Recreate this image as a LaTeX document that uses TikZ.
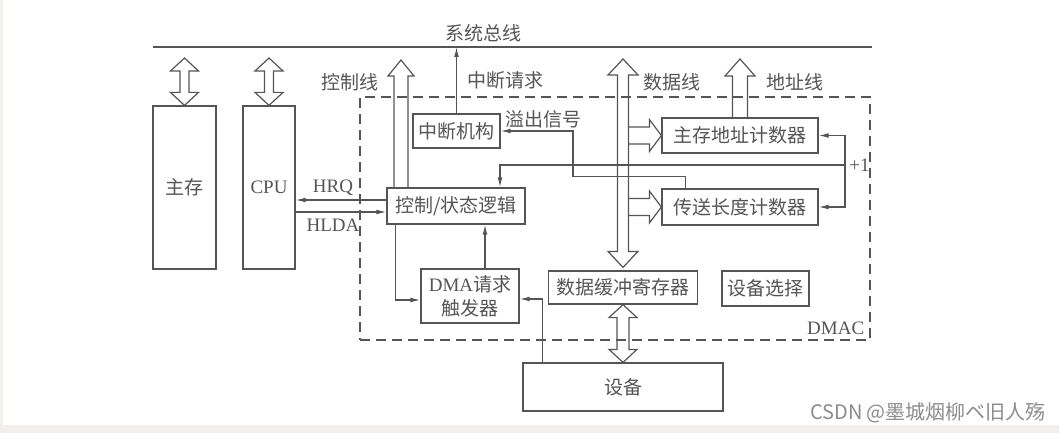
\documentclass[tikz,border=0pt]{standalone}
\usepackage{fontspec}
\setmainfont{Liberation Serif}
\newfontfamily\cjk{Noto Sans CJK SC}
\usetikzlibrary{arrows.meta, calc}

\definecolor{ink}{RGB}{85,85,85}
\definecolor{paper}{RGB}{241,240,236}
\newcommand{\lbsize}{\fontsize{9.5}{12}\selectfont}

% hollow bus arrows: shaft half width, wing half width, head length, from, to
\newcommand{\hollowarrow}[5]{%
  \path (#5) coordinate (ha-t) ($(#5)!#3!(#4)$) coordinate (ha-h);
  \draw[fat] ($(#4)!#1!90:(#5)$) -- ($(ha-h)!#1!90:(ha-t)$) -- ($(ha-h)!#2!90:(ha-t)$)
    -- (ha-t) -- ($(ha-h)!#2!-90:(ha-t)$) -- ($(ha-h)!#1!-90:(ha-t)$) -- ($(#4)!#1!-90:(#5)$);
}
\newcommand{\hollowdouble}[5]{%
  \path (#4) coordinate (hd-a) ($(#4)!#3!(#5)$) coordinate (hd-p)
        (#5) coordinate (hd-b) ($(#5)!#3!(#4)$) coordinate (hd-q);
  \draw[fat] (hd-a) -- ($(hd-p)!#2!90:(hd-b)$) -- ($(hd-p)!#1!90:(hd-b)$)
    -- ($(hd-q)!#1!-90:(hd-a)$) -- ($(hd-q)!#2!-90:(hd-a)$) -- (hd-b)
    -- ($(hd-q)!#2!90:(hd-a)$) -- ($(hd-q)!#1!90:(hd-a)$)
    -- ($(hd-p)!#1!-90:(hd-b)$) -- ($(hd-p)!#2!-90:(hd-b)$) -- cycle;
}

\begin{document}
\begin{tikzpicture}[
  x=0.5pt, y=-0.5pt,
  box/.style={draw=ink, line width=0.6pt, inner sep=0pt, align=center, text=ink, font=\cjk\lbsize},
  dashbox/.style={draw=ink, line width=0.6pt, dash pattern=on 5pt off 3pt, inner sep=0pt},
  lbl/.style={text=ink, font=\cjk\lbsize, inner sep=0pt},
  fat/.style={draw=ink, line width=0.6pt, line join=miter},
  arrow/.style={draw=ink, line width=0.6pt, -{Latex[length=5pt, width=2.4pt]}}
]
\fill[paper] (0,0) rectangle (1059,433);
\fill[white] (3,0) rectangle (1059,425);
\useasboundingbox (0,0) rectangle (1059,433);

% DMAC frame
\node[dashbox, minimum width=255pt, minimum height=121.5pt] (dmac) at (615,218.5) {};
\node[lbl, font=\lbsize, anchor=south east, inner sep=3pt] (dmac-lbl) at (dmac.south east) {DMAC};

% system bus
\coordinate (bus-l) at (153,47);
\coordinate (bus-r) at (872,47);
\draw[draw=ink, line width=0.6pt] (bus-l) -- (bus-r);
\node[lbl] (bus-lbl) at (483,33) {系统总线};

% boxes
\node[box, minimum width=31.5pt, minimum height=81.5pt] (mem) at (184.5,187.5) {主存};
\node[box, minimum width=26pt, minimum height=81.5pt] (cpu) at (269,187.5) {\rmfamily CPU};
\node[box, minimum width=69pt, minimum height=18pt] (ctrl) at (456,206) {控制/状态逻辑};
\node[box, minimum width=43.5pt, minimum height=17pt] (intr) at (456.5,131) {中断机构};
\node[box, minimum width=78pt, minimum height=17.5pt] (addr) at (740,135.5) {主存地址计数器};
\node[box, minimum width=78pt, minimum height=18pt] (len) at (740,207) {传送长度计数器};
\node[box, minimum width=74.5pt, minimum height=16.5pt] (buf) at (623,287.5) {数据缓冲寄存器};
\node[box, minimum width=43.5pt, minimum height=17.5pt] (sel) at (765.5,288.5) {设备选择};
\node[box, minimum width=49pt, minimum height=27pt] (req) at (470,296) {{\rmfamily DMA}请求\\触发器};
\node[box, minimum width=100pt, minimum height=24pt] (dev) at (623,387) {设备};

% bus arrows
\coordinate (mem-top) at (mem.north |- 0,58);
\coordinate (cpu-top) at (cpu.north |- 0,58);
\hollowdouble{2.25pt}{7pt}{6.5pt}{mem-top}{mem.north}
\hollowdouble{2.25pt}{7pt}{6.5pt}{cpu-top}{cpu.north}

\coordinate (ctl-bot) at ([xshift=-27.5pt]ctrl.north);
\coordinate (ctl-top) at (ctl-bot |- 0,60);
\hollowarrow{3.5pt}{6.5pt}{8pt}{ctl-bot}{ctl-top}
\node[lbl] (ctl-lbl) at (350,82) {控制线};

\coordinate (data-top) at (buf.north |- 0,59);
\coordinate (data-bot) at ([yshift=1.5pt]buf.north);
\hollowdouble{2.75pt}{7.5pt}{8pt}{data-top}{data-bot}
\node[lbl] (data-lbl) at (672,82) {数据线};

\coordinate (adr-top) at (addr.north |- 0,59);
\hollowarrow{3.75pt}{7.5pt}{8.5pt}{addr.north}{adr-top}
\node[lbl] (adr-lbl) at (795,82) {地址线};

\path (data-top |- addr.west) ++(2.75pt,0) coordinate (br-addr);
\path (data-top |- len.west) ++(2.75pt,0) coordinate (br-len);
\hollowarrow{4.25pt}{8pt}{6pt}{br-addr}{addr.west}
\hollowarrow{4.25pt}{8pt}{6pt}{br-len}{len.west}

\hollowdouble{3pt}{7pt}{6.5pt}{buf.south}{dev.north}

% signal lines
\draw[arrow] (intr.north) -- (intr.north |- bus-l);
\node[lbl] (irq-lbl) at (505,80) {中断请求};

\coordinate (hrq-s) at ([yshift=3pt]ctrl.west);
\coordinate (hlda-e) at ([yshift=-3pt]ctrl.west);
\draw[arrow] (hrq-s) -- (hrq-s -| cpu.east);
\draw[arrow] (hlda-e -| cpu.east) -- (hlda-e);
\node[lbl, font=\lbsize] (hrq-lbl) at (333,188) {HRQ};
\node[lbl, font=\lbsize] (hlda-lbl) at (333,225) {HLDA};

\coordinate (c2r) at ([xshift=4.5pt]ctrl.south west);
\coordinate (r-in) at ([yshift=-2pt]req.west);
\draw[arrow] (c2r) |- (r-in);
\coordinate (r2c) at ([xshift=7.5pt]req.north);
\draw[arrow] (r2c) -- (r2c |- ctrl.south);
\coordinate (d2r) at ([xshift=10pt]dev.north west);
\coordinate (r-in2) at ([yshift=-1.5pt]req.east);
\draw[arrow] (d2r) |- (r-in2);

\coordinate (ovf) at ([xshift=12pt]len.north west);
\draw[arrow] (ovf) -- ++(0,-12) -| (573,131) -- (intr.east);
\node[lbl] (ovf-lbl) at (543,119) {溢出信号};

\coordinate (inc) at (845,165);
\draw[arrow] (inc) -| ([xshift=22pt]ctrl.north);
\draw[arrow] (inc) |- (addr.east);
\draw[arrow] (inc) |- (len.east);
\node[lbl, font=\lbsize, anchor=west, inner sep=2pt] (inc-lbl) at (inc) {+1};

% watermark
\node[text=black!45, font=\cjk\fontsize{10}{12}\selectfont, inner sep=0pt] (mark) at (928,413) {CSDN @墨城烟柳ベ旧人殇};
\end{tikzpicture}
\end{document}
